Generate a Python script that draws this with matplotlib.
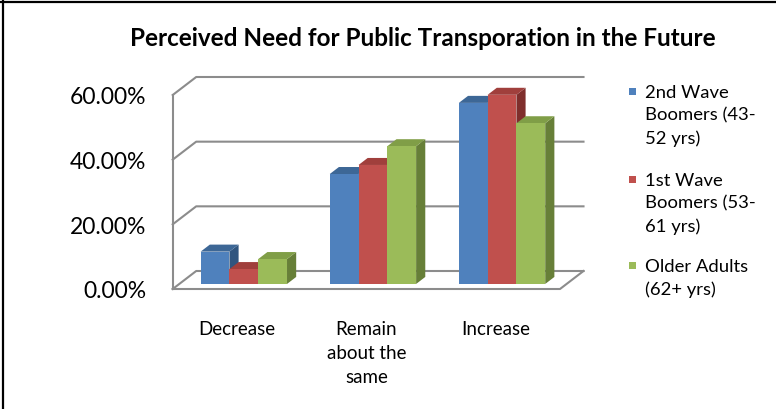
import matplotlib.pyplot as plt
from matplotlib.patches import Polygon, Rectangle
from matplotlib.lines import Line2D

# data
categories = ["Decrease", "Remain\nabout the\nsame", "Increase"]
series_names = [
    "2nd Wave\nBoomers (43-\n52 yrs)",
    "1st Wave\nBoomers (53-\n61 yrs)",
    "Older Adults\n(62+ yrs)",
]
second_wave = [0.100, 0.340, 0.560]
first_wave = [0.046, 0.368, 0.585]
older_adults = [0.077, 0.426, 0.497]
y_ticks = [0.0, 0.2, 0.4, 0.6]

front_colors = ["#4F81BD", "#C0504D", "#9BBB59"]
top_colors = ["#3D6796", "#A03F3C", "#809E47"]
side_colors = ["#30557F", "#7F2E2C", "#677F38"]
GRID = "#8C8C8C"
FONT = "Lato"

plt.rcParams["font.family"] = [FONT, "DejaVu Sans"]

W, H = 776, 410
fig = plt.figure(figsize=(W / 100, H / 100), dpi=100)
# axes = the front plane of the 3-D box
ax = fig.add_axes([172.7 / W, 120 / H, 387.3 / W, 194 / H])
ax.set_xlim(-0.5, 2.5)
ax.set_ylim(0, 0.6)

# depth of the box in data units (about 23.5 px right, 18 px up)
DX = 23.5 / 387.3 * 3.0
DY = 18.0 / 194.0 * 0.6
BW = 0.223          # bar width
F0, F1 = 0.28, 0.67  # front / back of bars as fraction of the depth

x_lo, x_hi = ax.get_xlim()

# walls: back-wall gridlines plus the side-wall diagonals
for t in y_ticks:
    ax.plot([x_lo, x_lo + DX, x_hi + DX], [t, t + DY, t + DY],
            color=GRID, lw=1.5, clip_on=False, zorder=1)
ax.plot([x_lo, x_lo], [0, y_ticks[-1]], color=GRID, lw=1.5, clip_on=False, zorder=1)
# floor outline (front and right edges)
ax.plot([x_lo, x_hi, x_hi + DX], [0, 0, DY], color=GRID, lw=1.5, clip_on=False, zorder=1)

values = [second_wave, first_wave, older_adults]
z = 2
for c in range(len(categories)):
    for i, vals in enumerate(values):
        v = vals[c]
        x0 = c + (i - 1) * BW - BW / 2
        x1 = x0 + BW
        side = [(x1 + F0 * DX, F0 * DY), (x1 + F1 * DX, F1 * DY),
                (x1 + F1 * DX, v + F1 * DY), (x1 + F0 * DX, v + F0 * DY)]
        top = [(x0 + F0 * DX, v + F0 * DY), (x1 + F0 * DX, v + F0 * DY),
               (x1 + F1 * DX, v + F1 * DY), (x0 + F1 * DX, v + F1 * DY)]
        ax.add_patch(Polygon(side, closed=True, fc=side_colors[i], lw=0,
                             clip_on=False, zorder=z))
        ax.add_patch(Polygon(top, closed=True, fc=top_colors[i], lw=0,
                             clip_on=False, zorder=z))
        ax.add_patch(Rectangle((x0 + F0 * DX, F0 * DY), BW, v, fc=front_colors[i],
                               lw=0, clip_on=False, zorder=z + 0.5))
        z += 1

for s in ax.spines.values():
    s.set_visible(False)
ax.set_yticks(y_ticks)
ax.set_yticklabels([f"{t:.2%}" for t in y_ticks], fontsize=16.5)
ax.set_xticks(range(len(categories)))
ax.set_xticklabels(categories, fontsize=13.5, linespacing=1.5, va="top")
ax.tick_params(axis="y", length=0, pad=19)
ax.tick_params(axis="x", length=0, pad=22)
ax.patch.set_visible(False)

fig.text(423 / W, 1 - 38 / H, "Perceived Need for Public Transporation in the Future",
         ha="center", va="center", fontsize=17.5, fontweight="bold")

# legend, Excel style: square beside the first line of each entry
legend_y = [92, 180, 266]
for i, name in enumerate(series_names):
    y = legend_y[i]
    fig.add_artist(Rectangle((629 / W, 1 - (y + 4) / H), 7 / W, 7 / H,
                             transform=fig.transFigure, fc=front_colors[i], lw=0))
    fig.text(645 / W, 1 - (y - 7) / H, name, ha="left", va="top",
             fontsize=13.3, linespacing=1.5)

# outer frame (only top and left edges show)
fig.add_artist(Line2D([0, 1], [1 - 2.5 / H] * 2, transform=fig.transFigure,
                      color="black", lw=1.6))
fig.add_artist(Line2D([2.5 / W] * 2, [0, 1], transform=fig.transFigure,
                      color="black", lw=1.6))

fig.savefig("out.png", dpi=100)
